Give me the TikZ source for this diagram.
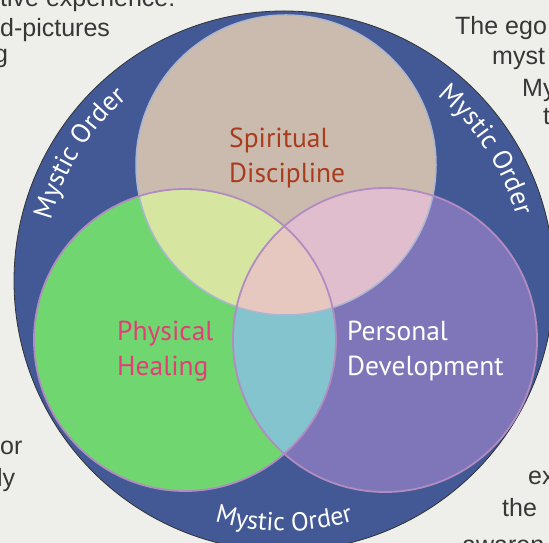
\documentclass[tikz,border=0pt]{standalone}
\usepackage{fontspec}
\setmainfont{PT Sans}
\newfontfamily\pagefont{Liberation Sans}
\usetikzlibrary{decorations.text}
\definecolor{paper}{RGB}{238,238,234}
\definecolor{pagegray}{RGB}{55,55,55}
\definecolor{ringblue}{RGB}{66,89,150}
\definecolor{spiritcol}{RGB}{202,187,174}
\definecolor{healcol}{RGB}{112,214,112}
\definecolor{devcol}{RGB}{126,118,184}
\definecolor{spirithealcol}{RGB}{214,230,160}
\definecolor{spiritdevcol}{RGB}{224,190,206}
\definecolor{healdevcol}{RGB}{132,196,206}
\definecolor{allcol}{RGB}{230,200,192}
\definecolor{spiritred}{RGB}{170,60,30}
\definecolor{healpink}{RGB}{228,62,120}
\definecolor{rimmauve}{RGB}{178,140,192}
\definecolor{rimpale}{RGB}{172,182,208}
\tikzset{
  pagetext/.style={anchor=base west,inner sep=0,text=pagegray,font=\pagefont\fontsize{25bp}{30bp}\selectfont},
  venntext/.style={anchor=west,inner sep=0,align=left,font=\fontsize{27.5bp}{35bp}\selectfont},
  mystic/.style={decorate,decoration={text along path,text align=center,text color=white,
    text={|\fontsize{#1}{#1}\selectfont|Mystic Order}}}
}
\begin{document}
\begin{tikzpicture}[x=1bp,y=1bp]
\useasboundingbox (0,0) rectangle (549,543);
\clip (0,0) rectangle (549,543);
\fill[paper] (0,0) rectangle (549,543);
\node[pagetext] (t1) at (0,536) {tive experience:};
\node[pagetext] (t2) at (0,506) {d-pictures};
\node[pagetext] (t3) at (-6,480) {g};
\node[pagetext] (t4) at (0,88) {or};
\node[pagetext] (t5) at (-3,56) {ly};
\node[pagetext] (t6) at (455,508) {The ego};
\node[pagetext] (t7) at (492,478) {myst};
\node[pagetext] (t8) at (522,446) {My};
\node[pagetext] (t9) at (543,418) {t};
\node[pagetext] (t10) at (528,58) {ex};
\node[pagetext] (t11) at (502,26) {the};
\node[pagetext] (t12) at (462,-10) {awaren};
\coordinate (O) at (284,262);
\coordinate (S) at (286,378);
\coordinate (H) at (185,203);
\coordinate (D) at (385,203);
\draw[fill=ringblue,draw=black!80,line width=0.8bp] (O) circle (270);
\fill[spiritcol] (S) circle (150);
\fill[healcol] (H) circle (151);
\fill[devcol] (D) circle (152);
\begin{scope}
\clip (H) circle (151);
\fill[healdevcol] (D) circle (152);
\end{scope}
\begin{scope}
\clip (S) circle (150);
\fill[spirithealcol] (H) circle (151);
\fill[spiritdevcol] (D) circle (152);
\clip (H) circle (151);
\fill[allcol] (D) circle (152);
\end{scope}
\draw[rimpale,line width=1.5bp] (S) circle (150);
\draw[rimmauve,line width=1.8bp] (H) circle (151);
\draw[rimmauve,line width=1.8bp] (D) circle (152);
\path[mystic=27bp] ([shift={(170:241)}]O) arc[start angle=170,end angle=126,radius=241];
\path[mystic=27bp] ([shift={(55:241)}]O) arc[start angle=55,end angle=11,radius=241];
\path[mystic=26bp] ([shift={(245:250)}]O) arc[start angle=245,end angle=295,radius=250];
\node[venntext,text=spiritred] (spiritual) at (229,385.5) {Spiritual\\Discipline};
\node[venntext,text=healpink] (physical) at (117,191.5) {Physical\\Healing};
\node[venntext,text=white] (personal) at (347,191.5) {Personal\\Development};
\end{tikzpicture}
\end{document}
